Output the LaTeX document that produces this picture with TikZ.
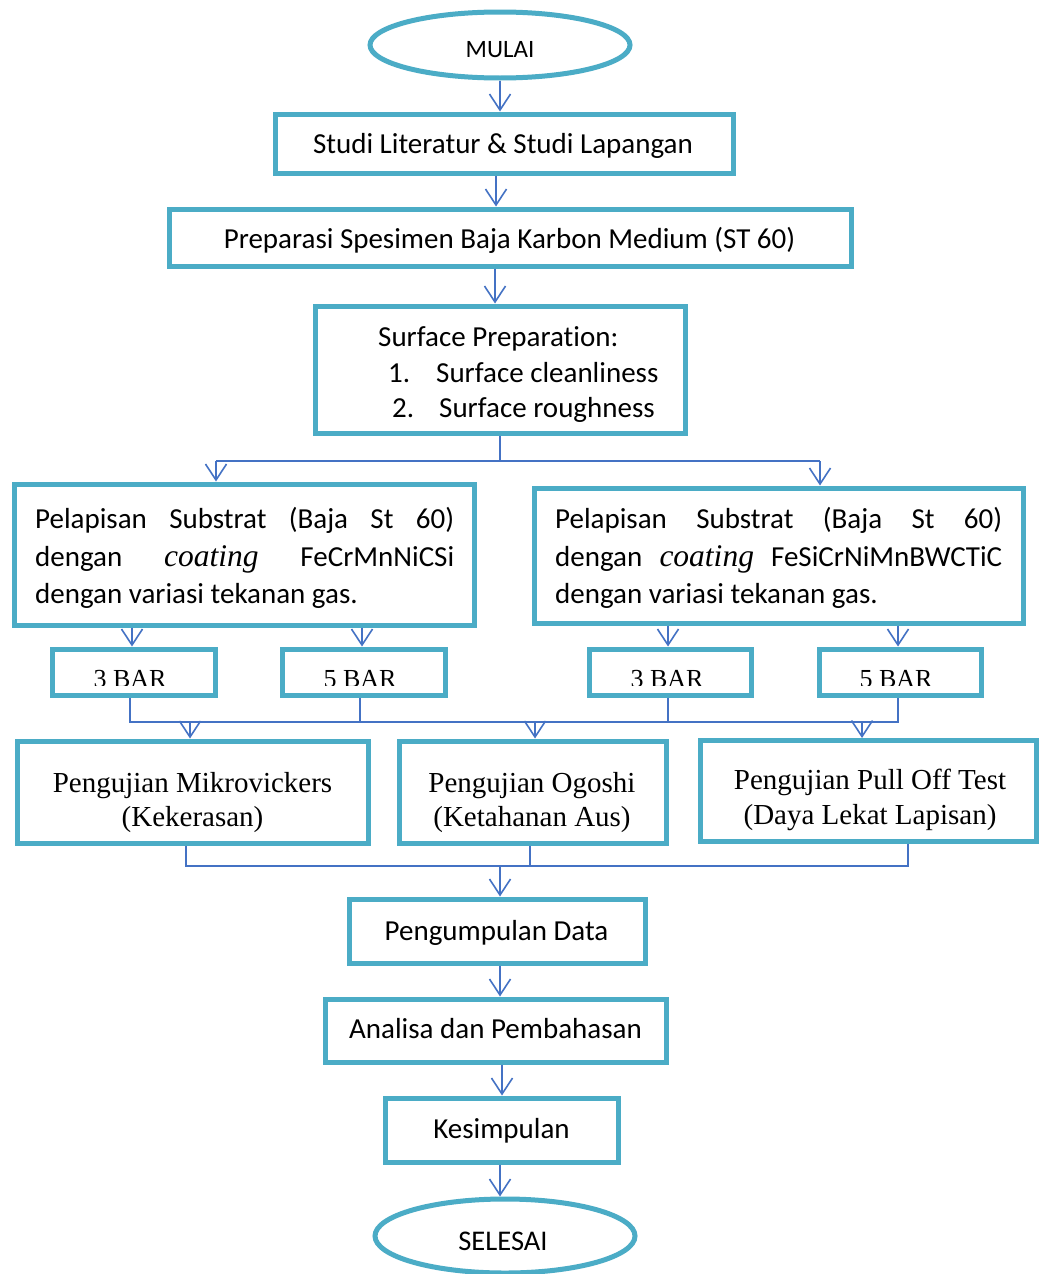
\documentclass[tikz,border=0pt]{standalone}
\usepackage{fontspec}
\setmainfont{Liberation Serif}
\newfontfamily\calib[Ligatures=NoCommon]{Carlito}
\usetikzlibrary{arrows.meta,shapes.geometric}
\definecolor{boxc}{HTML}{4BACC6}
\definecolor{linec}{HTML}{4472C4}
\begin{document}
\begin{tikzpicture}[x=1pt,y=-1pt,
  box/.style={draw=boxc, line width=5pt, inner sep=0pt, fill=white},
  oval/.style={ellipse, draw=boxc, line width=5pt, inner sep=0pt, fill=white},
  cal/.style={font=\calib\fontsize{29}{35}\selectfont, inner sep=0pt, anchor=base},
  calw/.style={cal, anchor=base west},
  tim/.style={font=\fontsize{29}{35}\selectfont, inner sep=0pt, anchor=base},
  timbar/.style={font=\fontsize{26}{30}\selectfont, inner sep=0pt, anchor=base},
  conn/.style={draw=linec, line width=1.6pt},
  arr/.style={conn, -{Straight Barb[length=16pt,width=21pt]}}]
\fill[white] (0,0) rectangle (1040,1274);
\useasboundingbox (0,0) rectangle (1040,1274);

% shapes
\node[oval, minimum width=260pt, minimum height=66pt] (mulai) at (500,45) {};
\node[box, minimum width=458pt, minimum height=59pt] (b1) at (504,143.5) {};
\node[box, minimum width=682pt, minimum height=57pt] (b2) at (510,237.5) {};
\node[box, minimum width=370pt, minimum height=127pt] (b3) at (500,369.5) {};
\node[box, minimum width=460pt, minimum height=141pt] (b4) at (244,554.5) {};
\node[box, minimum width=489pt, minimum height=135pt] (b5) at (778.5,555.5) {};
\node[box, minimum width=163pt, minimum height=46pt] (barA) at (133.5,672) {};
\node[box, minimum width=163pt, minimum height=46pt] (barB) at (363.5,672) {};
\node[box, minimum width=162pt, minimum height=46pt] (barC) at (670,672) {};
\node[box, minimum width=162pt, minimum height=46pt] (barD) at (900,672) {};
\node[box, minimum width=351pt, minimum height=102pt] (t1) at (192.5,792) {};
\node[box, minimum width=267pt, minimum height=102pt] (t2) at (532.5,792) {};
\node[box, minimum width=336pt, minimum height=101pt] (t3) at (868,791) {};
\node[box, minimum width=296pt, minimum height=64pt] (data) at (497,931) {};
\node[box, minimum width=341pt, minimum height=63pt] (anal) at (495.5,1030.5) {};
\node[box, minimum width=233pt, minimum height=64pt] (kes) at (501.5,1130) {};
\node[oval, minimum width=260pt, minimum height=74pt] (selesai) at (505,1236) {};

% connectors
\draw[arr] (mulai.south) -- (mulai.south |- b1.north);
\draw[arr] (496,0 |- b1.south) -- (496,0 |- b2.north);
\draw[arr] (495,0 |- b2.south) -- (495,0 |- b3.north);
\coordinate (sl) at (216,461);
\coordinate (sr) at (820,461);
\draw[conn] (b3.south) -- (b3.south |- sl);
\draw[conn] (sl) -- (sr);
\draw[arr] (sl) -- (sl |- b4.north);
\draw[arr] (sr) -- (sr |- b5.north);
\draw[arr] (132,0 |- b4.south) -- (132,0 |- barA.north);
\draw[arr] (362,0 |- b4.south) -- (362,0 |- barB.north);
\draw[arr] (668,0 |- b5.south) -- (668,0 |- barC.north);
\draw[arr] (898,0 |- b5.south) -- (898,0 |- barD.north);
\coordinate (jl) at (130,722);
\coordinate (jr) at (898,722);
\draw[conn] (130,0 |- barA.south) -- (jl) -- (jr) -- (898,0 |- barD.south);
\draw[conn] (360,0 |- barB.south) -- (360,0 |- jl);
\draw[conn] (668,0 |- barC.south) -- (668,0 |- jl);
\draw[arr] (190,0 |- jl) -- (190,0 |- t1.north);
\draw[arr] (535,0 |- jl) -- (535,0 |- t2.north);
\draw[arr] (862,0 |- jl) -- (862,0 |- t3.north);
\coordinate (kl) at (186,866);
\coordinate (kr) at (908,866);
\draw[conn] (186,0 |- t1.south) -- (kl) -- (kr) -- (908,0 |- t3.south);
\draw[conn] (530,0 |- t2.south) -- (530,0 |- kl);
\draw[arr] (500,0 |- kl) -- (500,0 |- data.north);
\draw[arr] (500,0 |- data.south) -- (500,0 |- anal.north);
\draw[arr] (502,0 |- anal.south) -- (502,0 |- kes.north);
\draw[arr] (500,0 |- kes.south) -- (500,0 |- selesai.north);

% texts
\node[cal, font=\calib\fontsize{25}{30}\selectfont] (xmulai) at (500,57) {MULAI};
\node[cal] (x1) at (503,153) {Studi Literatur \& Studi Lapangan};
\node[cal] (x2) at (509.5,248) {Preparasi Spesimen Baja Karbon Medium (ST 60)};
\node[calw] (x3a) at (378,346) {Surface Preparation:};
\node[calw] (x3b) at (388,382) {1.};
\node[calw] (x3c) at (436,382) {Surface cleanliness};
\node[calw] (x3d) at (392,417) {2.};
\node[calw] (x3e) at (439,417) {Surface roughness};
\node[calw] (x4a) at (35,528) {\makebox[419pt][s]{Pelapisan Substrat (Baja St 60)}};
\node[calw] (x4b) at (35,566) {\makebox[419pt][s]{dengan {\rmfamily\itshape\fontsize{31.5}{35}\selectfont coating} FeCrMnNiCSi}};
\node[calw] (x4c) at (35,603) {dengan variasi tekanan gas.};
\node[calw] (x5a) at (555,528) {\makebox[447pt][s]{Pelapisan Substrat (Baja St 60)}};
\node[calw] (x5b) at (555,566) {\makebox[447pt][s]{dengan {\rmfamily\itshape\fontsize{31.5}{35}\selectfont coating} FeSiCrNiMnBWCTiC}};
\node[calw] (x5c) at (555,603) {dengan variasi tekanan gas.};
\begin{scope}
\clip (50,647) rectangle (990,685);
\node[timbar] (xA) at (130,687) {3 BAR};
\node[timbar] (xB) at (360,687) {5 BAR};
\node[timbar] (xC) at (667,687) {3 BAR};
\node[timbar] (xD) at (896,687) {5 BAR};
\end{scope}
\node[tim] (xt1a) at (192.5,792) {Pengujian Mikrovickers};
\node[tim] (xt1b) at (192.5,826) {(Kekerasan)};
\node[tim] (xt2a) at (532,792) {Pengujian Ogoshi};
\node[tim] (xt2b) at (532,826) {(Ketahanan Aus)};
\node[tim] (xt3a) at (870,789) {Pengujian Pull Off Test};
\node[tim] (xt3b) at (870,824) {(Daya Lekat Lapisan)};
\node[cal] (xdata) at (496.5,940) {Pengumpulan Data};
\node[cal] (xanal) at (495.5,1038) {Analisa dan Pembahasan};
\node[cal] (xkes) at (501.5,1138) {Kesimpulan};
\node[cal, font=\calib\fontsize{28.5}{34}\selectfont] (xsel) at (503,1250) {SELESAI};
\end{tikzpicture}
\end{document}
